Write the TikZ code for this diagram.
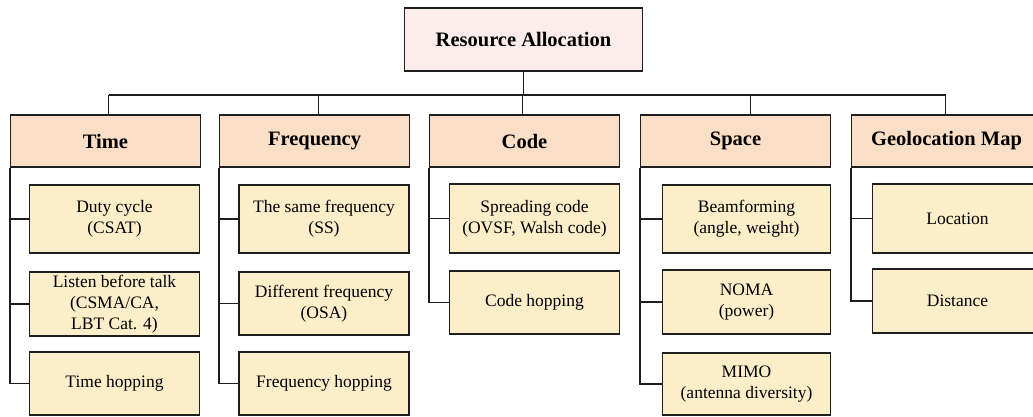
\documentclass[tikz,border=0pt]{standalone}
\usepackage{fontspec}
\setmainfont{Liberation Serif}
\definecolor{rootfill}{RGB}{253,236,236}
\definecolor{catfill}{RGB}{250,222,198}
\definecolor{itemfill}{RGB}{253,238,202}
\definecolor{edge}{RGB}{30,30,30}
\begin{document}
\begin{tikzpicture}[x=1pt,y=1pt,
  box/.style={draw=edge, line width=1.7pt, rectangle, inner sep=1pt, align=center},
  rootbox/.style={box, fill=rootfill, minimum width=238pt, minimum height=63pt,
    font=\fontsize{20.5}{24}\selectfont\bfseries},
  catbox/.style={box, fill=catfill, minimum width=190pt, minimum height=52pt,
    font=\fontsize{20.5}{24}\selectfont\bfseries},
  itembox/.style={box, fill=itemfill, minimum width=170pt,
    font=\fontsize{17.5}{21}\selectfont},
  link/.style={draw=edge, line width=1.7pt}]
\useasboundingbox (0,0) rectangle (1033,-417);

% half-point horizontal offset keeps the vertical rules crisp
\begin{scope}[xshift=0.5pt]
% root
\node[rootbox] (root) at (523,-39.5) {Resource Allocation};

% categories
\node[catbox] (time) at (105,-141) {Time};
\node[catbox] (freq) at (314,-141) {Frequency};
\node[catbox] (code) at (524,-141) {Code};
\node[catbox] (space) at (735,-141) {Space};
\node[catbox] (geo) at (946,-141) {Geolocation Map};

% items under Time
\node[itembox, minimum height=68pt] (t1) at (114,-219) {Duty cycle\\(CSAT)};
\node[itembox, minimum height=64pt] (t2) at (114,-304) {Listen before talk\\(CSMA/CA,\\LBT Cat. 4)};
\node[itembox, minimum height=63pt] (t3) at (114,-383.5) {Time hopping};

% items under Frequency
\node[itembox, minimum height=68pt] (f1) at (323.5,-219) {The same frequency\\(SS)};
\node[itembox, minimum height=63pt] (f2) at (323.5,-303.5) {Different frequency\\(OSA)};
\node[itembox, minimum height=63pt] (f3) at (323.5,-383.5) {Frequency hopping};

% items under Code
\node[itembox, minimum height=69pt] (c1) at (534,-218.5) {Spreading code\\(OVSF, Walsh code)};
\node[itembox, minimum height=63pt] (c2) at (534,-302.5) {Code hopping};

% items under Space
\node[itembox, minimum width=168pt, minimum height=68pt] (s1) at (746,-219) {Beamforming\\(angle, weight)};
\node[itembox, minimum width=168pt, minimum height=64pt] (s2) at (746,-302) {NOMA\\(power)};
\node[itembox, minimum width=168pt, minimum height=62pt] (s3) at (746,-384) {MIMO\\(antenna diversity)};

% items under Geolocation Map
\node[itembox, minimum height=69pt] (g1) at (957,-218.5) {Location};
\node[itembox, minimum height=64pt] (g2) at (957,-301) {Distance};

% top-level bus
\coordinate (bus) at (0,-95);
\coordinate (tstem) at (108,-115);
\coordinate (fstem) at (318,-115);
\coordinate (cstem) at (522,-115);
\coordinate (sstem) at (750,-115);
\coordinate (gstem) at (945,-115);
\draw[link] (root.south) -- (root.south |- bus);
\draw[link] (tstem |- bus) -- (gstem |- bus);
\foreach \s in {tstem,fstem,cstem,sstem,gstem}
  \draw[link] (\s) -- (\s |- bus);

% branches from each category to its items
\draw[link] (time.south west) |- (t3.west);
\draw[link] (time.south west |- t1.west) -- (t1.west);
\draw[link] (time.south west |- t2.west) -- (t2.west);

\draw[link] (freq.south west) |- (f3.west);
\draw[link] (freq.south west |- f1.west) -- (f1.west);
\draw[link] (freq.south west |- f2.west) -- (f2.west);

\draw[link] (code.south west) |- (c2.west);
\draw[link] (code.south west |- c1.west) -- (c1.west);

\draw[link] (space.south west) |- (s3.west);
\draw[link] (space.south west |- s1.west) -- (s1.west);
\draw[link] (space.south west |- s2.west) -- (s2.west);

\draw[link] (geo.south west) |- (g2.west);
\draw[link] (geo.south west |- g1.west) -- (g1.west);
\end{scope}
\end{tikzpicture}
\end{document}
